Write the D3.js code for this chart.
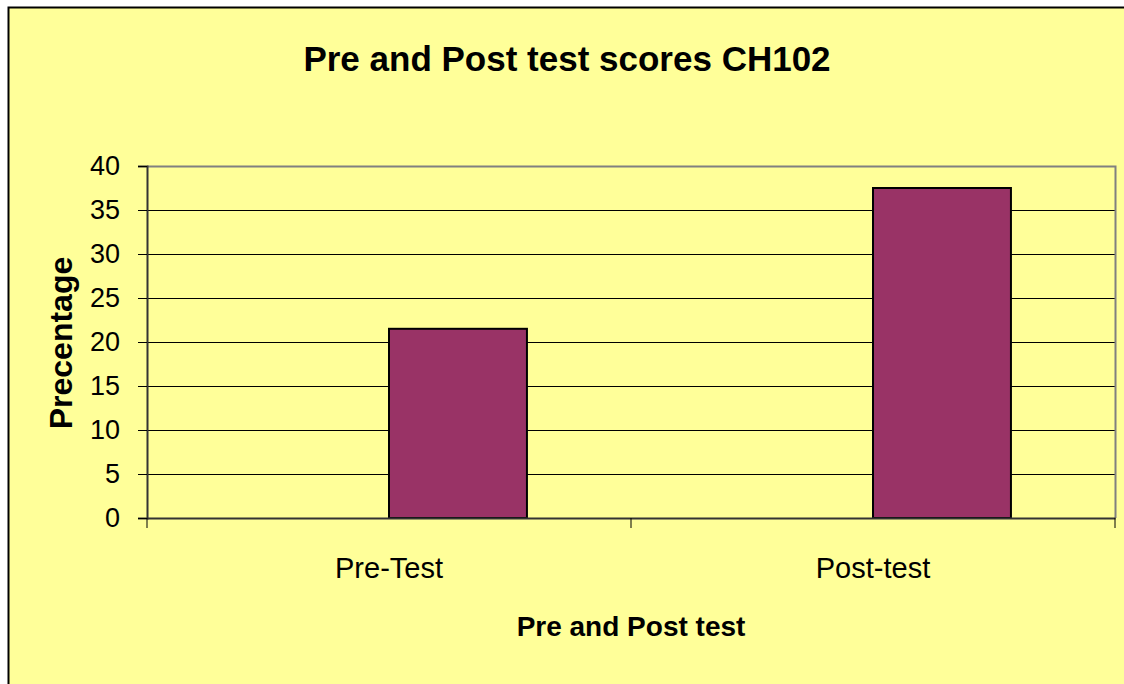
<!DOCTYPE html>
<html>
<head>
<meta charset="utf-8">
<script src="https://cdn.jsdelivr.net/npm/d3@7"></script>
<style>
  body { margin: 0; background: #fff; }
  svg text { font-family: "Liberation Sans", Arial, sans-serif; fill: #000; }
</style>
</head>
<body>
<svg id="chart" width="1124" height="684"></svg>
<script>
const categories = ["Pre-Test", "Post-test"];
const scores = [21.5, 37.5];
const yTicks = [0, 5, 10, 15, 20, 25, 30, 35, 40];

const svg = d3.select("#chart");

// chart area (yellow, border cut off at right/bottom)
svg.append("rect")
    .attr("x", 8.5).attr("y", 7.5)
    .attr("width", 1130).attr("height", 690)
    .attr("fill", "#FFFF99")
    .attr("stroke", "#000")
    .attr("stroke-width", 2);

const plot = { left: 147, top: 166, right: 1115, bottom: 518 };

const x = d3.scaleBand()
    .domain(categories)
    .range([plot.left, plot.right])
    .padding(0);

const y = d3.scaleLinear()
    .domain([0, 40])
    .range([plot.bottom, plot.top]);

// gridlines
svg.append("g")
    .selectAll("line")
    .data(yTicks.filter(d => d > 0 && d < 40))
    .join("line")
    .attr("x1", plot.left).attr("x2", plot.right)
    .attr("y1", d => Math.round(y(d)) + 0.5)
    .attr("y2", d => Math.round(y(d)) + 0.5)
    .attr("stroke", "#000")
    .attr("stroke-width", 1);

// plot border top/right
svg.append("path")
    .attr("d", `M${plot.left},${plot.top + 0.5}H${plot.right + 0.5}V${plot.bottom}`)
    .attr("fill", "none")
    .attr("stroke", "#808080")
    .attr("stroke-width", 2);

// bars (second slot of a clustered pair, starting at band centre)
const barW = x.bandwidth() * 0.285;
svg.append("g")
    .selectAll("rect")
    .data(categories.map((c, i) => ({ c, v: scores[i] })))
    .join("rect")
    .attr("x", d => x(d.c) + x.bandwidth() / 2)
    .attr("y", d => y(d.v))
    .attr("width", barW)
    .attr("height", d => y(0) - y(d.v))
    .attr("fill", "#993366")
    .attr("stroke", "#000")
    .attr("stroke-width", 2);

// y axis
const yAxis = svg.append("g")
    .attr("transform", `translate(${plot.left},0)`)
    .call(d3.axisLeft(y).tickValues(yTicks).tickSize(9).tickPadding(18));
yAxis.select(".domain").attr("stroke", "#333").attr("stroke-width", 2);
yAxis.selectAll(".tick line").attr("stroke", "#000");
yAxis.selectAll("text").style("font-size", "27px");

// x axis
const xAxis = svg.append("g")
    .attr("transform", `translate(0,${plot.bottom})`)
    .call(d3.axisBottom(x).tickSize(0).tickPadding(39));
xAxis.select(".domain").attr("stroke", "#333").attr("stroke-width", 2);
xAxis.selectAll("text").style("font-size", "29px");

// category separator ticks
svg.append("g")
    .selectAll("line")
    .data([plot.left, x(categories[1]), plot.right])
    .join("line")
    .attr("x1", d => d).attr("x2", d => d)
    .attr("y1", plot.bottom).attr("y2", plot.bottom + 10)
    .attr("stroke", "#000")
    .attr("stroke-width", 1);

// title
svg.append("text")
    .attr("x", 567).attr("y", 71)
    .attr("text-anchor", "middle")
    .style("font-size", "35px")
    .style("font-weight", "bold")
    .text("Pre and Post test scores CH102");

// x axis title
svg.append("text")
    .attr("x", 631).attr("y", 636)
    .attr("text-anchor", "middle")
    .style("font-size", "28px")
    .style("font-weight", "bold")
    .text("Pre and Post test");

// y axis title
svg.append("text")
    .attr("transform", "translate(72,343) rotate(-90)")
    .attr("text-anchor", "middle")
    .style("font-size", "32px")
    .style("font-weight", "bold")
    .text("Precentage");
</script>
</body>
</html>
